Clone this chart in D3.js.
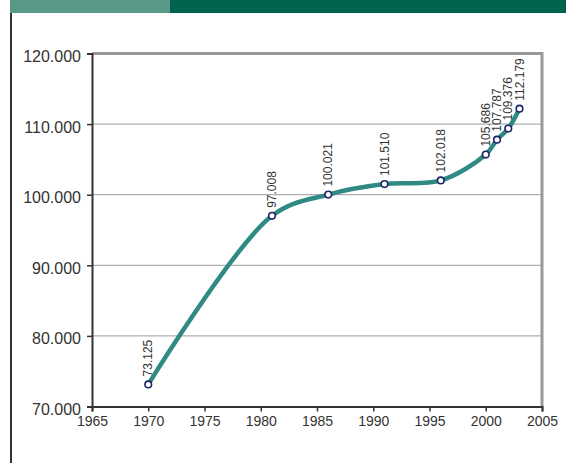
<!DOCTYPE html>
<html><head><meta charset="utf-8">
<script src="https://cdn.jsdelivr.net/npm/d3@7"></script>
<style>html,body{margin:0;padding:0;background:#fff;}svg{display:block;}</style>
</head><body>
<script>
const years = [1970, 1981, 1986, 1991, 1996, 2000, 2001, 2002, 2003];
const values = [73.125, 97.008, 100.021, 101.510, 102.018, 105.686, 107.787, 109.376, 112.179];
const labels = ["73.125","97.008","100.021","101.510","102.018","105.686","107.787","109.376","112.179"];
const yTicks = [70, 80, 90, 100, 110, 120];
const yTickLabels = ["70.000","80.000","90.000","100.000","110.000","120.000"];
const xTicks = [1965, 1970, 1975, 1980, 1985, 1990, 1995, 2000, 2005];

const W = 566, H = 463;
const FONT = "'Liberation Sans', Arial, sans-serif";
const svg = d3.select("body").append("svg").attr("width", W).attr("height", H);

// header bars
svg.append("rect").attr("x", 10).attr("y", 0).attr("width", 160).attr("height", 13).attr("fill", "#5a9888");
svg.append("rect").attr("x", 170).attr("y", 0).attr("width", 396).attr("height", 13).attr("fill", "#00634f");
svg.append("line").attr("x1", 11).attr("x2", 11).attr("y1", 13).attr("y2", H).attr("stroke", "#333").attr("stroke-width", 2);

const x = d3.scaleLinear().domain([1965, 2005]).range([92, 542]);
const y = d3.scaleLinear().domain([70, 120]).range([406.5, 53.5]);

// gridlines
svg.append("g").selectAll("line").data(yTicks.filter(d => d > 70 && d < 120)).join("line")
  .attr("x1", x(1965)).attr("x2", x(2005)).attr("y1", d => y(d)).attr("y2", d => y(d))
  .attr("stroke", "#9a9a9a").attr("stroke-width", 1);

// top and right frame (grey)
svg.append("path")
  .attr("d", `M${x(1965)},${y(120)}H${x(2005)}V${y(70)}`)
  .attr("fill", "none").attr("stroke", "#999").attr("stroke-width", 3);

// axes
const yAxis = d3.axisLeft(y).tickValues(yTicks).tickFormat((d, i) => yTickLabels[i]).tickSize(5).tickPadding(6);
const gy = svg.append("g").attr("transform", `translate(${x(1965)},0)`).call(yAxis);
gy.select(".domain").attr("stroke", "#333").attr("stroke-width", 2);
gy.selectAll(".tick line").attr("stroke", "#333").attr("stroke-width", 1.5);
gy.selectAll("text").attr("font-family", FONT).attr("font-size", 16).attr("fill", "#333").attr("dy", "0.5em");

const xAxis = d3.axisBottom(x).tickValues(xTicks).tickFormat(d3.format("d")).tickSize(5).tickPadding(5);
const gx = svg.append("g").attr("transform", `translate(0,${y(70)})`).call(xAxis);
gx.select(".domain").attr("stroke", "#333").attr("stroke-width", 2);
gx.selectAll(".tick line").attr("stroke", "#333").attr("stroke-width", 1.5);
gx.selectAll("text").attr("font-family", FONT).attr("font-size", 14).attr("fill", "#333");

const pts = years.map((yr, i) => [x(yr), y(values[i])]);
svg.append("path").attr("d", d3.line().curve(d3.curveCatmullRom.alpha(0.5))(pts))
  .attr("fill", "none").attr("stroke", "#2e8a82").attr("stroke-width", 4.5);

svg.append("g").selectAll("circle").data(pts).join("circle")
  .attr("cx", d => d[0]).attr("cy", d => d[1]).attr("r", 3.3)
  .attr("fill", "#fff").attr("stroke", "#1d2468").attr("stroke-width", 1.6);

svg.append("g").selectAll("text").data(pts).join("text")
  .attr("transform", d => `translate(${d[0] + 4},${d[1] - 8}) rotate(-90)`)
  .attr("font-family", FONT).attr("font-size", 12).attr("fill", "#333")
  .text((d, i) => labels[i]);
</script>
</body></html>
